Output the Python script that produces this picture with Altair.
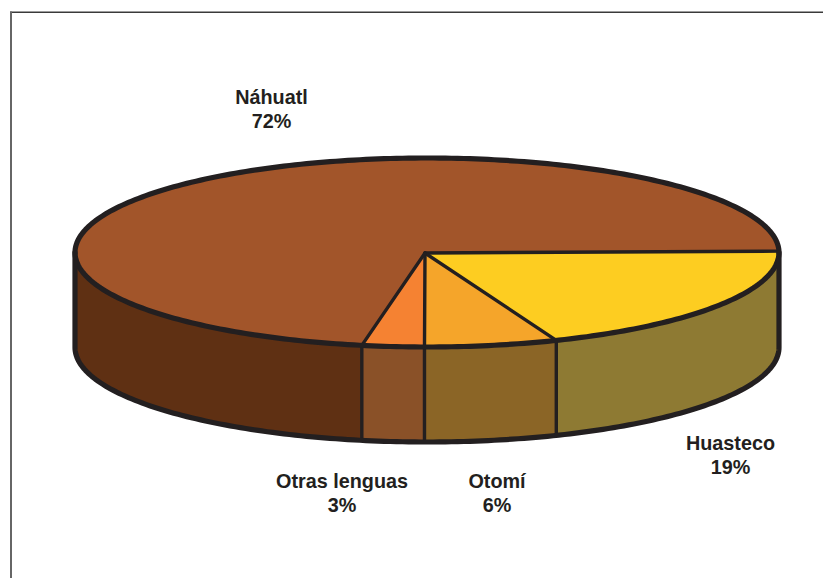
import math
import altair as alt
import pandas as pd

names = ["Huasteco", "Otomí", "Otras lenguas", "Náhuatl"]
pct_labels = ["19%", "6%", "3%", "72%"]
shares = [19.25, 6.1, 2.85, 71.8]
top_colors = ["#fdcd21", "#f5a52a", "#f58232", "#a2552a"]
side_colors = ["#8e7a33", "#8b6526", "#8a5128", "#5f3013"]

# Label anchors
label_x = [730.5, 497, 342, 271.5]
label_y1 = [444, 482, 482, 98]
label_y2 = [468, 506, 506, 122]

# Pie projection
CX, CY, RX, RY, DEPTH = 427, 252.5, 352, 94.5, 95
APEX = (425, 253)
START = -0.85
INK = "#231f20"
W, H = 815, 570

def pt(t, drop=0):
    r = math.radians(t)
    return CX + RX * math.cos(r), CY + RY * math.sin(r) + drop

def arc(a, b, drop=0, step=1.0):
    n = max(2, int(abs(b - a) / step) + 1)
    return [pt(a + (b - a) * i / (n - 1), drop) for i in range(n)]

bounds = [START]
for s in shares:
    bounds.append(bounds[-1] + s * 3.6)

lines_thin, lines_rim = [], []

def add(rows, key, pts):
    for i, (x, y) in enumerate(pts):
        rows.append({"k": key, "o": i, "x": x, "y": y})

wall_rows, top_rows = [], []
for i, nm in enumerate(names):
    a, b = bounds[i], bounds[i + 1]
    lo, hi = max(a, 0), min(b, 180)
    if hi > lo:
        add(wall_rows, "wall " + nm, arc(lo, hi) + arc(hi, lo, DEPTH))
    add(top_rows, "top " + nm, [APEX] + arc(a, b) + [APEX])
    # dividers
    add(lines_thin, f"spoke {i}", [APEX, pt(a)])
    if 0 < a < 180:
        add(lines_thin, f"edge {i}", [pt(a), pt(a, DEPTH)])

add(lines_rim, "ellipse", arc(0, 360))
add(lines_rim, "front", [pt(180)] + arc(180, 0, DEPTH) + [pt(0)])

xscale = alt.Scale(domain=[8, 8 + W], range=[0, W], nice=False, zero=False)
yscale = alt.Scale(domain=[8, 8 + H], range=[0, H], nice=False, zero=False)
x = alt.X("x:Q", axis=None, scale=xscale)
y = alt.Y("y:Q", axis=None, scale=yscale)

def fill_layer(rows, keys, colors):
    return alt.Chart(pd.DataFrame(rows)).mark_line(strokeWidth=0.5, interpolate="linear").encode(
        x=x, y=y, order="o:Q",
        fill=alt.Fill("k:N", scale=alt.Scale(domain=keys, range=colors), legend=None),
        stroke=alt.Stroke("k:N", scale=alt.Scale(domain=keys, range=colors), legend=None),
    )

walls = fill_layer(wall_rows, ["wall " + n for n in names], side_colors)
tops = fill_layer(top_rows, ["top " + n for n in names], top_colors)

thin = alt.Chart(pd.DataFrame(lines_thin)).mark_line(color=INK, strokeWidth=3.4, strokeCap="round").encode(
    x=x, y=y, order="o:Q", detail="k:N")
rim = alt.Chart(pd.DataFrame(lines_rim)).mark_line(color=INK, strokeWidth=5.2, strokeJoin="round", strokeCap="round").encode(
    x=x, y=y, order="o:Q", detail="k:N")

lab = pd.DataFrame({"name": names, "pct": pct_labels, "x": label_x, "y1": label_y1, "y2": label_y2})
font = dict(font="Liberation Sans", fontSize=19.8, fontWeight="bold", color=INK, align="center", baseline="middle")
t1 = alt.Chart(lab).mark_text(**font).encode(x=x, y=alt.Y("y1:Q", axis=None, scale=yscale), text="name:N")
t2 = alt.Chart(lab).mark_text(**font).encode(x=x, y=alt.Y("y2:Q", axis=None, scale=yscale), text="pct:N")

frame_top = alt.Chart(pd.DataFrame({"a": [0]})).mark_rule(color="#3a3a3a", strokeWidth=1.6).encode(
    x=alt.value(2), x2=alt.value(W), y=alt.value(4.2))
frame_left = alt.Chart(pd.DataFrame({"a": [0]})).mark_rule(color="#666666", strokeWidth=2).encode(
    x=alt.value(3), y=alt.value(3.5), y2=alt.value(H))

chart = alt.layer(frame_top, frame_left, walls, tops, thin, rim, t1, t2).resolve_scale(
    fill="independent", stroke="independent"
).properties(
    width=W, height=H, padding=0, autosize=alt.AutoSizeParams(type="none"), background="white"
).configure_view(stroke=None)

chart.save("out.html", embed_options={"renderer": "svg", "actions": False})
